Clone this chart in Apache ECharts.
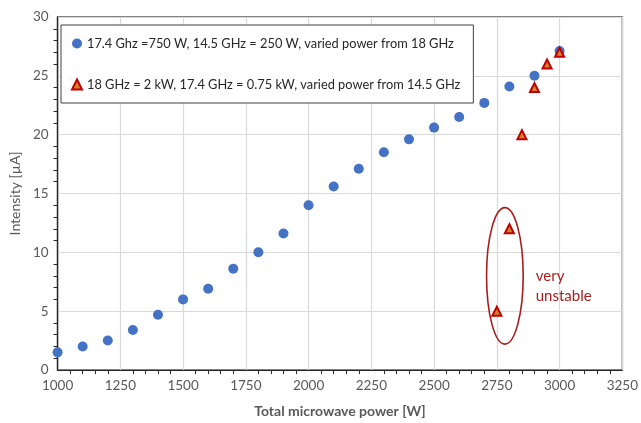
<!DOCTYPE html>
<html lang="en">
<head>
    <meta charset="UTF-8">
    <title>Intensity vs microwave power</title>
    <script src="https://cdn.jsdelivr.net/npm/echarts@6/dist/echarts.min.js"></script>
    <style>
        *{ margin:0; padding:0; }
        #main{ width:641px; height:423px; background:#fff; }
    </style>
</head>
<body>
    <div id="main"></div>
    <script>
        // series 1: 17.4 GHz = 750 W, 14.5 GHz = 250 W, power varied from 18 GHz
        var powerA = [1000,1100,1200,1300,1400,1500,1600,1700,1800,1900,2000,
                      2100,2200,2300,2400,2500,2600,2700,2800,2900,3000]
        var intensityA = [1.5,2.0,2.5,3.4,4.7,6.0,6.9,8.6,10.0,11.6,14.0,
                          15.6,17.1,18.5,19.6,20.6,21.5,22.7,24.1,25.0,27.1]
        // series 2: 18 GHz = 2 kW, 17.4 GHz = 0.75 kW, power varied from 14.5 GHz
        var powerB = [2750,2800,2850,2900,2950,3000]
        var intensityB = [5.0,12.0,20.0,24.0,26.0,27.0]

        var nameA = '17.4 Ghz =750 W, 14.5 GHz = 250 W, varied power from 18 GHz'
        var nameB = '18 GHz = 2 kW, 17.4 GHz = 0.75 kW, varied power from 14.5 GHz'

        // annotation: ellipse round the unstable points (centre x, centre y, radius x, radius y)
        var noteEllipse = [2782, 8.0, 73, 5.8]
        var noteText = ['very', 'unstable']
        var notePos = [2905, 7.1]

        var font = 'Lato, "Open Sans", sans-serif'
        var gray = '#595959'
        var darkRed = '#A81E1E'

        function pairs(xs, ys){
            var out = []
            for (var i = 0; i < xs.length; i++) out.push([xs[i], ys[i]])
            return out
        }
        function plain(v){ return String(v) }

        var chart = echarts.init(document.getElementById('main'))
        var option = {
            animation: false,
            textStyle: { fontFamily: font },
            grid: {
                left: 56, right: 17, top: 17, bottom: 52,
                show: true, borderColor: gray, borderWidth: 1.5
            },
            legend: {
                orient: 'vertical',
                left: 61, top: 25,
                data: [nameA, nameB],
                backgroundColor: '#fff',
                borderColor: '#404040', borderWidth: 1,
                padding: [12, 13, 12, 10],
                itemWidth: 10, itemHeight: 10, itemGap: 28,
                textStyle: { fontFamily: font, fontSize: 12.8, color: '#262626' }
            },
            xAxis: {
                type: 'value', min: 1000, max: 3250, interval: 250,
                name: 'Total microwave power [W]', nameLocation: 'middle', nameGap: 34,
                nameTextStyle: { fontFamily: font, fontSize: 14, fontWeight: 'bold', color: gray },
                axisLine: { onZero: false, lineStyle: { color: '#262626', width: 1.2 } },
                axisTick: { show: false },
                minorTick: { show: true, splitNumber: 5, length: 4, lineStyle: { color: '#262626' } },
                axisLabel: { fontSize: 13.5, color: gray, margin: 9, formatter: plain },
                splitLine: { lineStyle: { color: '#d9d9d9', width: 1.2 } }
            },
            yAxis: {
                type: 'value', min: 0, max: 30, interval: 5,
                name: 'Intensity [µA]', nameLocation: 'middle', nameGap: 33,
                nameTextStyle: { fontFamily: font, fontSize: 14, color: gray },
                axisLine: { show: true, lineStyle: { color: '#262626', width: 1.2 } },
                axisTick: { show: false },
                minorTick: { show: true, splitNumber: 5, length: 4, lineStyle: { color: '#262626' } },
                axisLabel: { fontSize: 13.5, color: gray, margin: 9, formatter: plain },
                splitLine: { lineStyle: { color: '#d9d9d9', width: 1.2 } }
            },
            series: [
                {
                    name: nameA, type: 'scatter', symbol: 'circle', symbolSize: 10,
                    itemStyle: { color: '#4472C4', opacity: 1 },
                    data: pairs(powerA, intensityA), z: 3
                },
                {
                    name: nameB, type: 'scatter', symbol: 'triangle', symbolSize: 9,
                    itemStyle: { color: '#D2822A', borderColor: '#C00000', borderWidth: 2, opacity: 1 },
                    data: pairs(powerB, intensityB), z: 4
                },
                {
                    name: 'note', type: 'custom', silent: true, z: 5,
                    data: [noteEllipse.concat(notePos)],
                    renderItem: function(params, api){
                        var c = api.coord([api.value(0), api.value(1)])
                        var s = api.size([api.value(2), api.value(3)])
                        var t = api.coord([api.value(4), api.value(5)])
                        return {
                            type: 'group',
                            children: [
                                {
                                    type: 'ellipse',
                                    shape: { cx: c[0], cy: c[1], rx: s[0], ry: s[1] },
                                    style: { fill: null, stroke: darkRed, lineWidth: 1.6 }
                                },
                                {
                                    type: 'text', x: t[0], y: t[1],
                                    style: {
                                        text: noteText.join('\n'),
                                        fill: darkRed, font: '15px ' + font,
                                        lineHeight: 20, verticalAlign: 'middle', align: 'left'
                                    }
                                }
                            ]
                        }
                    }
                }
            ]
        }
        chart.setOption(option)
    </script>
</body>
</html>
